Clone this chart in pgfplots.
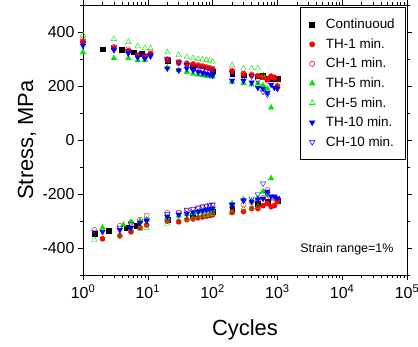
\documentclass[border=0pt]{standalone}
\usepackage{pgfplots}
\pgfplotsset{compat=1.18}
\usepackage{fontspec}
\setmainfont{Liberation Sans}
\definecolor{cg}{RGB}{0,230,0}
\definecolor{cr}{RGB}{255,0,0}
\definecolor{cb}{RGB}{0,0,255}
\begin{document}
\begin{tikzpicture}
\useasboundingbox (-83bp,-72bp) rectangle (335bp,275bp);
\begin{axis}[
  scale only axis, width=324bp, height=270bp,
  xmode=log, xmin=1, xmax=100000,
  ymin=-500, ymax=500,
  ytick={-400,-200,0,200,400}, minor ytick={-500,-300,-100,100,300,500},
  xtick={1,10,100,1000,10000,100000},
  xticklabels={10\textsuperscript{0},10\textsuperscript{1},10\textsuperscript{2},10\textsuperscript{3},10\textsuperscript{4},10\textsuperscript{5}},
  /pgf/number format/assume math mode=true,
  tick align=outside,
  major tick length=5bp, minor tick length=3bp,
  every tick/.style={black, line width=0.6pt},
  axis line style={line width=0.8pt},
  ticklabel style={font=\fontsize{16}{18}\selectfont},
  xticklabel style={yshift=-1bp},
  xlabel={Cycles}, ylabel={Stress, MPa},
  label style={font=\fontsize{22}{24}\selectfont},
  xlabel style={at={(axis description cs:0.5,-0.204)}, anchor=center},
  ylabel style={at={(axis description cs:-0.173,0.5)}, anchor=center},
  legend style={at={(rel axis cs:0.997,0.993)}, anchor=north east, draw=black, line width=0.6pt,
    font=\fontsize{13.5}{15}\selectfont, row sep=4.3bp, column sep=9bp, inner xsep=9bp, inner ysep=10bp},
  legend cell align=left,
  every axis plot/.append style={only marks},
]
% Continuoud
\addplot[mark=square*, mark size=2.4bp, black, mark options={fill=black}] coordinates {
(2,336)(4,333)(6,325)(8,320)(20,295)(50,270)(100,255)(200,245)(300,240)(500,236)(600,239)(700,228)(800,228)(900,228)(1000,226)
(1.5,-347)(2.5,-336)(4.7,-325)(6.6,-318)(20,-295)(50,-280)(100,-265)(200,-254)(500,-235)(700,-228)(1000,-224)};
% TH-1
\addplot[mark=*, mark size=2.6bp, cr, mark options={fill=cr}] coordinates {
(1,365)(3,340)(5,330)(7,312)(9,308)(11,320)(20,295)(30,285)(40,282)(50,280)(60,275)(70,272)(80,268)(90,265)(100,262)(200,255)(300,245)(400,240)(500,236)(600,232)(700,225)(800,236)(900,232)(1000,200)
(2,-366)(3.7,-355)(5.5,-340)(7.6,-325)(9.6,-315)(20,-300)(30,-303)(40,-295)(50,-292)(60,-288)(70,-285)(80,-282)(90,-280)(100,-277)(200,-269)(300,-265)(400,-254)(500,-254)(600,-243)(700,-235)(800,-247)(900,-243)(1000,-228)};
% CH-1
\addplot[mark=o, mark size=2.6bp, cr, mark options={fill=white}] coordinates {
(1,372)(3,345)(5,336)(7,316)(9,312)(11,325)(20,300)(30,290)(40,285)(50,282)(60,278)(70,274)(80,270)(90,267)(100,265)(200,258)(300,247)(400,243)(500,239)(600,232)(700,220)(800,236)(900,230)(1000,225)
(1.5,-333)(3.7,-318)(5.5,-306)(7.6,-295)(9.6,-280)(20,-270)(30,-269)(40,-262)(50,-258)(60,-255)(70,-250)(80,-247)(90,-245)(100,-243)(200,-250)(300,-240)(400,-230)(500,-225)(600,-215)(700,-185)(800,-215)(900,-215)(1000,-222)};
% TH-5
\addplot[mark=triangle*, mark size=3.2bp, cg, mark options={fill=cg}] coordinates {
(1,325)(3,303)(5,303)(7,295)(9,295)(20,268)(30,258)(40,252)(50,245)(60,242)(70,240)(80,238)(90,236)(100,235)(200,215)(300,210)(400,205)(500,209)(600,202)(700,190)(800,120)
(2,-325)(4.2,-314)(5.5,-303)(7.6,-299)(9.6,-295)(20,-288)(30,-280)(40,-275)(50,-270)(60,-268)(70,-265)(80,-262)(90,-260)(100,-258)(200,-235)(300,-220)(400,-225)(500,-215)(600,-191)(700,-200)(800,-142)};
% CH-5
\addplot[mark=triangle, mark size=3.2bp, cg, mark options={fill=white}] coordinates {
(1,388)(3,374)(5,363)(7,347)(9,340)(11,340)(20,325)(30,314)(40,307)(50,303)(60,300)(70,298)(80,296)(90,293)(100,290)(200,277)(300,265)(400,265)(500,265)(600,240)
(1.5,-370)(3.7,-351)(5.5,-329)(7.6,-329)(9.6,-325)(20,-310)(30,-295)(40,-292)(50,-290)(60,-285)(70,-282)(80,-278)(90,-275)(100,-273)(200,-269)(300,-254)(400,-250)(500,-247)};
% TH-10
\addplot[mark=triangle*, mark size=3.2bp, cb, mark options={fill=cb, rotate=180}] coordinates {
(1,350)(3,333)(5,321)(7,306)(9,302)(11,310)(20,265)(30,258)(40,265)(50,258)(60,252)(70,248)(80,245)(90,242)(100,239)(200,220)(300,220)(400,213)(500,194)(600,190)(700,175)(800,205)(900,194)(1000,190)
(2,-340)(3.7,-333)(5.5,-325)(7.6,-306)(9.6,-299)(20,-284)(30,-277)(40,-273)(50,-268)(60,-265)(70,-262)(80,-258)(90,-256)(100,-254)(200,-239)(300,-224)(400,-228)(500,-220)(600,-217)(700,-191)(800,-209)(900,-209)(1000,-215)};
% CH-10
\addplot[mark=triangle, mark size=3.2bp, cb, mark options={fill=white, rotate=180}] coordinates {
(1,358)(3,344)(5,330)(7,314)(9,310)(11,314)(20,300)(30,288)(40,278)(50,272)(60,268)(70,262)(80,258)(90,255)(100,254)(200,247)(300,232)(400,236)(500,220)(600,179)(700,168)
(1.5,-340)(3.7,-325)(5.5,-310)(7.6,-306)(9.6,-295)(20,-275)(30,-269)(40,-258)(50,-255)(60,-250)(70,-246)(80,-243)(90,-240)(100,-239)(200,-240)(300,-224)(400,-217)(500,-202)(600,-161)(700,-200)};
\legend{Continuoud, TH-1 min., CH-1 min., TH-5 min., CH-5 min., TH-10 min., CH-10 min.}
\node[anchor=east, font=\fontsize{12.5}{14}\selectfont] at (rel axis cs:0.969,0.095) {Strain range=1\%};
\end{axis}
\end{tikzpicture}
\end{document}
